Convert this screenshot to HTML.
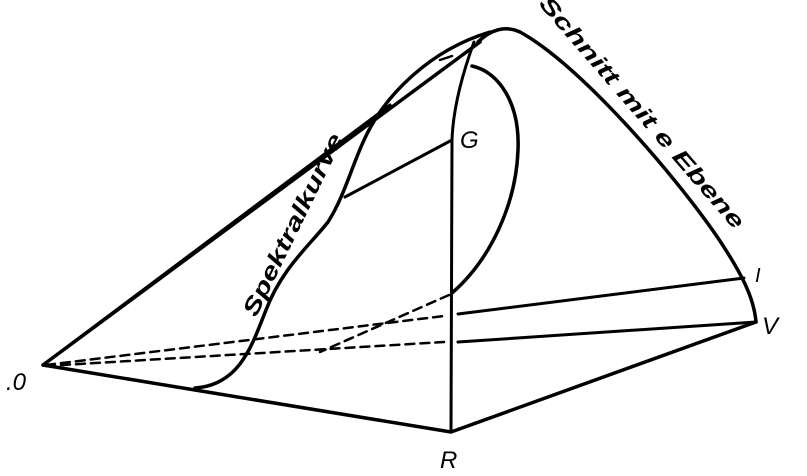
<!DOCTYPE html>
<html><head><style>
html,body{margin:0;padding:0;background:#fff;width:807px;height:476px;overflow:hidden}
svg{display:block}
text{font-family:"Liberation Sans",sans-serif;font-style:italic;fill:#000}
</style></head><body>
<svg width="807" height="476" viewBox="0 0 807 476" xmlns="http://www.w3.org/2000/svg">
<g fill="none" stroke="#000" stroke-linecap="round" stroke-linejoin="round">
<path d="M43 365 L480 42" stroke-width="3.5"/>
<path d="M43 365 L390 105" stroke-width="3"/>
<path d="M195 388 C240 385 252 345 266 310 C282 268 310 245 328 222 C345 195 352 165 365 138 C385 95 430 50 490 32" stroke-width="3.5"/>
<path d="M478 42 C490 30 505 25 520 32 C580 65 675 175 718 238 C742 274 754 298 756 322" stroke-width="3.5"/>
<path d="M474 42 C462 75 453 110 452 140 L451 432" stroke-width="3"/>
<path d="M472 66 C500 72 520 105 518 150 C516 205 490 260 452 293" stroke-width="3.5"/>
<path d="M452 140 L345 197" stroke-width="3"/>
<path d="M458 314 L744 278" stroke-width="3"/>
<path d="M458 342 L756 322" stroke-width="3"/>
<path d="M43 365 L195 390 L451 432 L756 322" stroke-width="3.5"/>
<path d="M46 365 L444 316" stroke-width="2.5" stroke-dasharray="9 6"/>
<path d="M46 366 L444 342" stroke-width="2.5" stroke-dasharray="9 6"/>
<path d="M449 295 L320 352" stroke-width="2.5" stroke-dasharray="9 6"/>
<path d="M440 60 L452 56" stroke-width="2.5"/>
</g>
<text x="6" y="390" font-size="24">.0</text>
<text x="440" y="468" font-size="24">R</text>
<text x="762" y="334" font-size="24">V</text>
<text x="460" y="148" font-size="24">G</text>
<text x="755" y="282" font-size="20">I</text>
<text x="0" y="0" font-size="23" font-weight="bold" transform="translate(256 318) rotate(-64)" textLength="200" lengthAdjust="spacingAndGlyphs">Spektralkurve</text>
<text x="0" y="0" font-size="22" font-weight="bold" transform="translate(538 4) rotate(49)" textLength="300" lengthAdjust="spacingAndGlyphs">Schnitt mit e Ebene</text>
</svg>
</body></html>
